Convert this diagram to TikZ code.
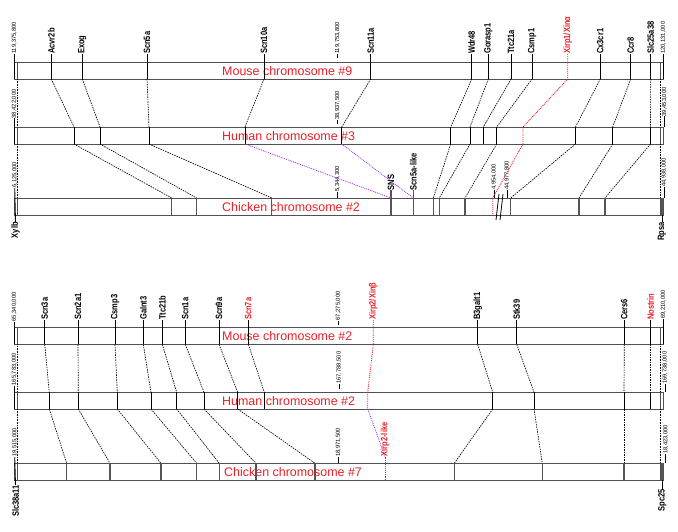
\documentclass[tikz,border=0pt]{standalone}
\usepackage{graphicx}
\usepackage{fontspec}
\setmainfont{Liberation Sans}
\definecolor{xred}{RGB}{232,32,40}
\definecolor{xpurple}{RGB}{165,60,220}
\definecolor{boxgray}{RGB}{80,80,80}
\definecolor{tickgray}{RGB}{85,85,85}
\newcommand\glabfont{\fontsize{9.2}{10}\selectfont\bfseries}
\newcommand\slabfont{\fontsize{5.8}{6}\selectfont}
\newcommand\ctfont{\fontsize{12.5}{14}\selectfont}
\newcommand\gsq[1]{\scalebox{0.82}[1]{#1}}
\begin{document}
\begin{tikzpicture}[x=1bp,y=-1bp,
  chrbox/.style={draw=boxgray, line width=0.9bp},
  gtick/.style={draw=black, line width=0.9bp},
  ctick/.style={draw=tickgray, line width=1.1bp},
  conn/.style={draw=black, line width=0.65bp, dash pattern=on 1.5bp off 1bp},
  endconn/.style={draw=black, line width=0.6bp, dash pattern=on 0.8bp off 0.8bp},
  redconn/.style={draw=xred, line width=0.8bp, dash pattern=on 1bp off 0.9bp},
  purpconn/.style={draw=xpurple, line width=0.8bp, dash pattern=on 1bp off 0.9bp},
  glabel/.style={rotate=90, anchor=west, inner sep=0pt, font=\glabfont},
  glabelb/.style={rotate=90, anchor=east, inner sep=0pt, font=\glabfont},
  slabel/.style={rotate=90, anchor=west, inner sep=0pt, font=\slabfont},
  ctitle/.style={anchor=west, inner sep=0pt, text=xred, font=\ctfont}]
\useasboundingbox (0,0) rectangle (678,532);

% ---------- chromosome boxes ----------
\foreach \nm/\yt/\yb in {M9/62/79, H3/127/144, C2/198/215, M2/327.7/344.3, H2/392.3/409, C7/463.3/480}{
  \draw[chrbox] (14.7,\yt) rectangle (663,\yb);
  \coordinate (\nm-Lt) at (17,\yt); \coordinate (\nm-Lb) at (17,\yb);
  \coordinate (\nm-Rt) at (660.5,\yt); \coordinate (\nm-Rb) at (660.5,\yb);
  \draw[chrbox] (\nm-Lt) -- (\nm-Lb);
  \draw[chrbox] (\nm-Rt) -- (\nm-Rb);
}
\fill[tickgray] (660.5,198) rectangle (663,215);
\fill[tickgray] (660.5,463.3) rectangle (663,480);
\foreach \a/\b in {M9/H3, H3/C2, M2/H2, H2/C7}{
  \draw[endconn] (\a-Lb) -- (\b-Lt);
  \draw[endconn] (\a-Rb) -- (\b-Rt);
}

% ---------- titles ----------
\node[ctitle] (tM9) at (222,71) {Mouse chromosome \#9};
\node[ctitle] (tH3) at (222,136) {Human chromosome \#3};
\node[ctitle] (tC2) at (222,207) {Chicken chromosome \#2};
\node[ctitle] (tM2) at (222,336.5) {Mouse chromosome \#2};
\node[ctitle] (tH2) at (222,401) {Human chromosome \#2};
\node[ctitle] (tC7) at (224,472.5) {Chicken chromosome \#7};

% ---------- scale labels ----------
\foreach \k/\txt/\sx/\sy/\ey in {a/119{,}375{,}800/14.2/54/79, b/119{,}753{,}800/337.5/54/58, c/120{,}131{,}000/663.3/54/79,
  d/38{,}422{,}000/14.2/118.5/144, e/38{,}937{,}500/337.5/120/124, f/39{,}453{,}000/664.5/116.5/127,
  g/5{,}344{,}300/337.5/192/198, h/4{,}954{,}000/494/190/198, i/44{,}977{,}800/507/190/198, j/44{,}938{,}000/664/187/198,
  k/65{,}340{,}000/14.2/321.5/344.3, l/67{,}275{,}000/338.3/320.5/324.5, m/69{,}210{,}000/663.3/319/344.3,
  n/165{,}783{,}000/14.2/385.5/409, o/167{,}788{,}500/339/384/388.5, p/169{,}738{,}000/665/384/392.3,
  q/18{,}971{,}500/338.3/457/463.3, r/18{,}423{,}000/665.7/454/463.3}{
  \node[slabel] (sc\k) at (\sx,\sy) {\txt};
  \coordinate (sc\k-e) at (\sx,\ey);
  \draw[gtick] (sc\k.west) -- (sc\k-e);
}
% left / right chicken ends with gene labels below
\node[slabel] (scs) at (14.7,188) {6,125,000};
\node[glabelb] (xylb) at (15.5,222) {\gsq{Xylb}};
\draw[gtick] (scs.west) -- (xylb.east);
\node[slabel] (sct) at (14.7,457) {19,515,000};
\node[glabelb] (slc38) at (15.5,485) {\gsq{Slc38a11}};
\draw[gtick] (sct.west) -- (slc38.east);
\coordinate (rpsa-t) at (662,215);
\node[glabelb] (rpsa) at (662,222) {\gsq{Rpsa}};
\draw[gtick] (rpsa-t) -- (rpsa.east);
\coordinate (spc-t) at (662.3,480);
\node[glabelb] (spc25) at (662.3,489) {\gsq{Spc25}};
\draw[gtick] (spc-t) -- (spc25.east);
% break marks
\coordinate (bk1a) at (499,194); \coordinate (bk1b) at (496,220);
\coordinate (bk2a) at (503,194); \coordinate (bk2b) at (500,220);
\draw[gtick, line width=0.8bp] (bk1a) -- (bk1b);
\draw[gtick, line width=0.8bp] (bk2a) -- (bk2b);

% ---------- top panel genes ----------
\foreach \i/\lab/\mx/\hx in {1/Acvr2b/51.3/74, 2/Exog/82.3/100, 3/Scn5a/147/149, 4/Scn10a/264/245,
  5/Scn11a/370.7/341.7, 6/Wdr48/471.7/450.7, 7/Gorasp1/488.3/470, 8/Ttc21a/511/483.3,
  9/Csmp1/532/496.7, 11/Cx3cr1/600.3/575.5, 12/Ccr8/630.7/612.7, 13/Slc25a38/650.7/650.5}{
  \node[glabel] (ta\i) at (\mx,54) {\gsq{\lab}};
  \coordinate (ta\i-m) at (\mx,79);
  \coordinate (ta\i-h) at (\hx,127);
  \coordinate (ta\i-hb) at (\hx,144);
  \draw[gtick] (ta\i.west) -- (ta\i-m);
  \draw[conn] (ta\i-m) -- (ta\i-h);
  \draw[gtick] (ta\i-h) -- (ta\i-hb);
}
\foreach \i/\cx in {1/171.7, 2/196.7, 3/271.7, 6/433.3, 7/439.3, 9/465, 11/510.7, 12/579, 13/605}{
  \coordinate (ta\i-c) at (\cx,198);
  \coordinate (ta\i-cb) at (\cx,215);
  \draw[conn] (ta\i-hb) -- (ta\i-c);
  \draw[ctick] (ta\i-c) -- (ta\i-cb);
}
% SNS and Scn5a-like
\node[glabel] (sns) at (391,190.5) {\gsq{SNS}};
\node[glabel] (s5l) at (413.3,190.5) {\gsq{Scn5a-like}};
\coordinate (sns-c) at (391,198); \coordinate (sns-cb) at (391,215);
\coordinate (s5l-c) at (413.3,198); \coordinate (s5l-cb) at (413.3,215);
\draw[ctick] (sns.west) -- (sns-cb);
\draw[ctick] (s5l.west) -- (s5l-cb);
\draw[purpconn] (ta4-hb) -- (sns-c);
\draw[purpconn] (ta5-hb) -- (s5l-c);
% Xirp1
\node[glabel, text=xred] (xirp1) at (567.7,54) {\gsq{Xirp1/Xinα}};
\coordinate (x1m) at (567.7,79); \coordinate (x1h) at (523,127); \coordinate (x1hb) at (523,144);
\coordinate (x1c) at (492.7,198); \coordinate (x1cb) at (492.7,215);
\draw[redconn] (xirp1.west) -- (x1m) -- (x1h) -- (x1hb) -- (x1c) -- (x1cb);

% ---------- bottom panel genes ----------
\foreach \i/\lab/\mx/\hx/\col in {1/Scn3a/44.7/49.3/black, 2/Scn2a1/78/78.3/black, 3/Csmp3/115/117.3/black,
  4/Galnt3/143.3/151/black, 5/Ttc21b/162.3/176.7/black, 6/Scn1a/185.3/204/black, 7/Scn9a/219/237.7/black,
  8/Scn7a/248.3/264.3/xred, 9/B3galt1/477.7/492.7/black, 10/Stk39/516.7/534/black, 11/Cers6/624.3/624/black,
  12/Nostrin/650.7/650.7/xred}{
  \node[glabel, text=\col] (tb\i) at (\mx,320) {\gsq{\lab}};
  \coordinate (tb\i-m) at (\mx,344.3);
  \coordinate (tb\i-h) at (\hx,392.3);
  \coordinate (tb\i-hb) at (\hx,409);
  \draw[gtick] (tb\i.west) -- (tb\i-m);
  \draw[conn] (tb\i-m) -- (tb\i-h);
  \draw[gtick] (tb\i-h) -- (tb\i-hb);
}
\foreach \i/\cx in {1/66.7, 2/110, 3/161, 4/196.7, 5/219.3, 6/256, 7/315, 9/454.3, 10/542.3, 11/624}{
  \coordinate (tb\i-c) at (\cx,463.3);
  \coordinate (tb\i-cb) at (\cx,480);
  \draw[conn] (tb\i-hb) -- (tb\i-c);
  \draw[ctick] (tb\i-c) -- (tb\i-cb);
}
% Xirp2
\node[glabel, text=xred] (xirp2) at (373.3,320) {\gsq{Xirp2/Xinβ}};
\coordinate (x2m) at (373.3,344.3); \coordinate (x2h) at (367.7,392.3); \coordinate (x2hb) at (367.7,409);
\draw[redconn] (xirp2.west) -- (x2m) -- (x2h) -- (x2hb);
\node[glabel, text=xred] (xirp2l) at (385,456.5) {\gsq{Xirp2-like}};
\coordinate (x2cb) at (385,480);
\draw[purpconn] (x2hb) -- (xirp2l.west);
\draw[redconn] (xirp2l.west) -- (x2cb);
\end{tikzpicture}
\end{document}
